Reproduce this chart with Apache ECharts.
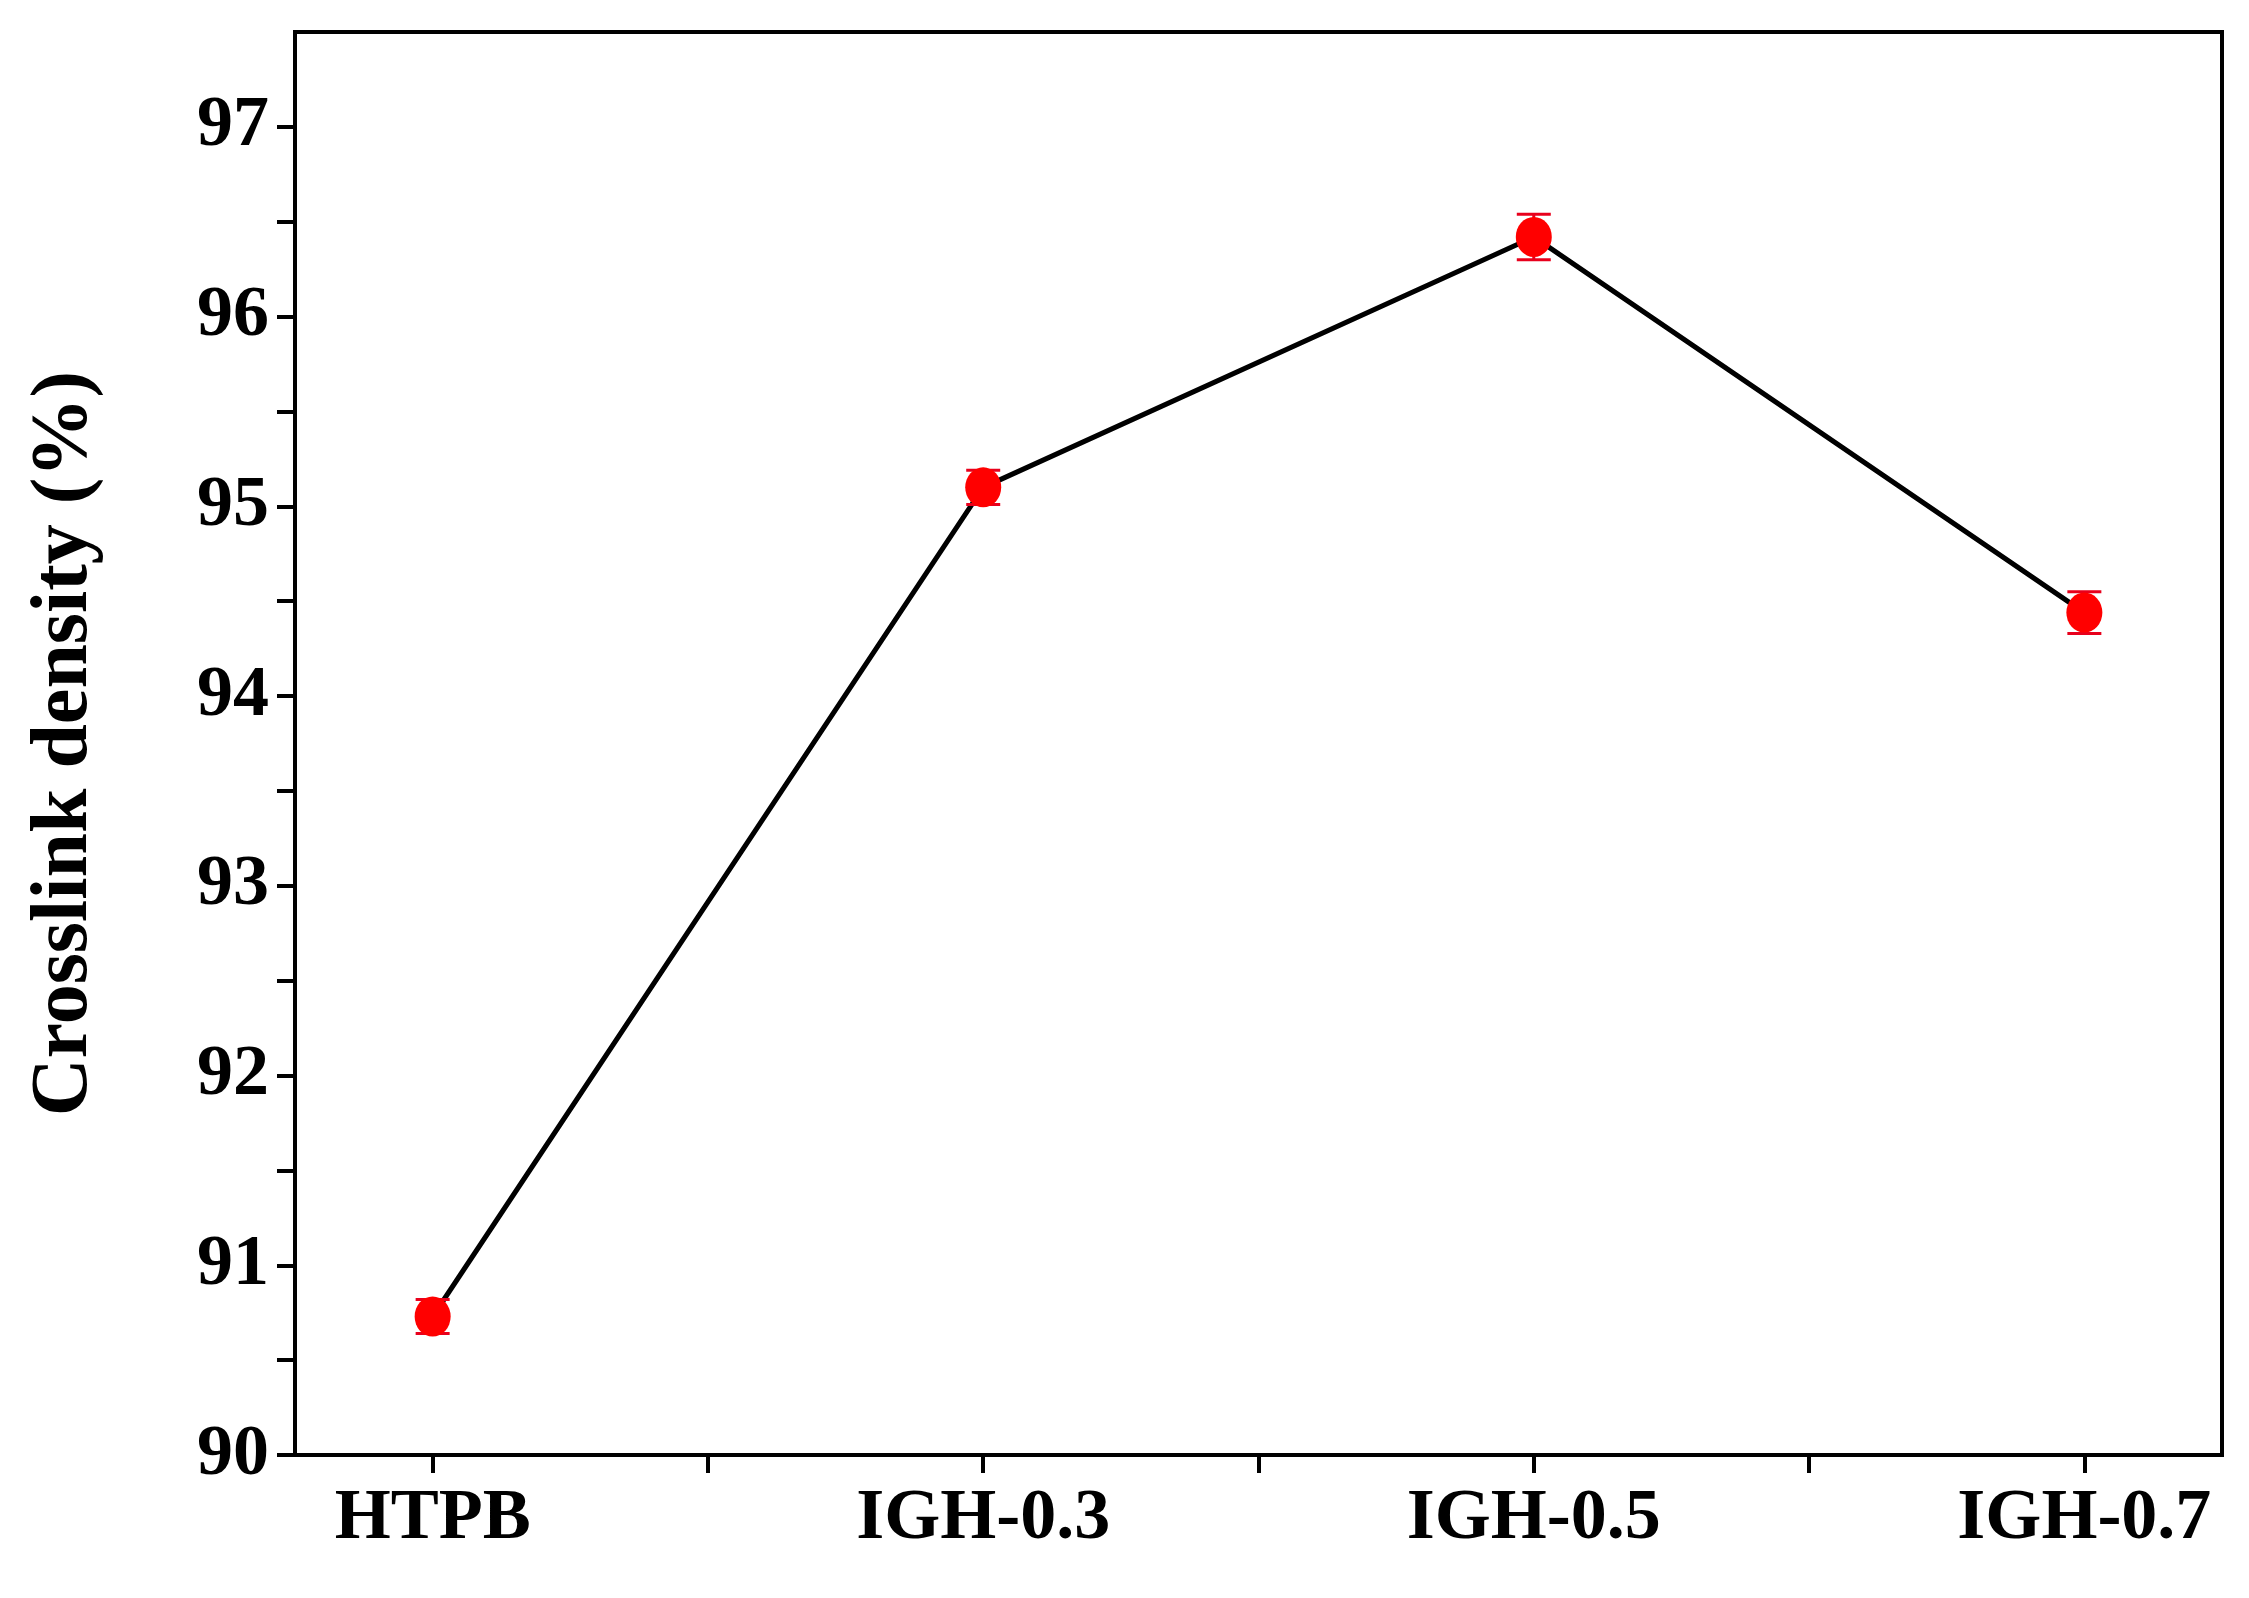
<!DOCTYPE html>
<html><head><meta charset="utf-8">
<script src="https://cdn.jsdelivr.net/npm/echarts@6/dist/echarts.min.js"></script>
<style>html,body{margin:0;padding:0;background:#fff}#c{width:2249px;height:1598px}</style>
</head><body><div id="c"></div>
<script>
const categories = ['HTPB','IGH-0.3','IGH-0.5','IGH-0.7'];
const values = [90.73, 95.10, 96.42, 94.44];
const errors = [0.09, 0.09, 0.12, 0.11];
const yTicks = [90,91,92,93,94,95,96,97];

const chart = echarts.init(document.getElementById('c'));
const font = 'Liberation Serif';
const lineData = values.map((v,i)=>[i,v]);
const errData = values.map((v,i)=>[i,v-errors[i],v+errors[i]]);
chart.setOption({
  animation:false,
  grid:{left:295,right:27,top:32,bottom:143,show:true,borderColor:'#000',borderWidth:4,backgroundColor:'transparent'},
  xAxis:{type:'value',min:-0.25,max:3.25,
    axisLine:{onZero:false,lineStyle:{color:'#000',width:4}},
    axisTick:{show:true,length:18,lineStyle:{color:'#000',width:4},customValues:[0,0.5,1,1.5,2,2.5,3]},
    axisLabel:{customValues:[0,1,2,3],formatter:v=>categories[Math.round(v)],color:'#000',fontFamily:font,fontWeight:'bold',fontSize:72,margin:28},
    splitLine:{show:false}},
  yAxis:{type:'value',min:90,max:97.5,interval:1,
    name:'Crosslink density (%)',nameLocation:'middle',nameGap:190,
    nameTextStyle:{color:'#000',fontFamily:font,fontWeight:'bold',fontSize:80},
    axisLine:{show:true,onZero:false,lineStyle:{color:'#000',width:4}},
    axisTick:{show:true,length:18,lineStyle:{color:'#000',width:4},customValues:[90,90.5,91,91.5,92,92.5,93,93.5,94,94.5,95,95.5,96,96.5,97]},
    axisLabel:{customValues:yTicks,color:'#000',fontFamily:font,fontWeight:'bold',fontSize:72,margin:26},
    splitLine:{show:false}},
  series:[
    {type:'line',data:lineData,symbol:'none',lineStyle:{color:'#000',width:5},z:2},
    {type:'custom',data:errData,z:3,renderItem:(params,api)=>{
      const x=api.value(0);const lo=api.coord([x,api.value(1)]);const hi=api.coord([x,api.value(2)]);
      const w=17;const st={stroke:'#e8001c',lineWidth:3};
      return {type:'group',children:[
        {type:'line',shape:{x1:lo[0],y1:lo[1],x2:hi[0],y2:hi[1]},style:st},
        {type:'line',shape:{x1:lo[0]-w,y1:lo[1],x2:lo[0]+w,y2:lo[1]},style:st},
        {type:'line',shape:{x1:hi[0]-w,y1:hi[1],x2:hi[0]+w,y2:hi[1]},style:st}]};
    }},
    {type:'scatter',data:lineData,symbol:'circle',symbolSize:[36,40],itemStyle:{color:'#ff0000',opacity:1},z:4}
  ]
});
</script></body></html>
